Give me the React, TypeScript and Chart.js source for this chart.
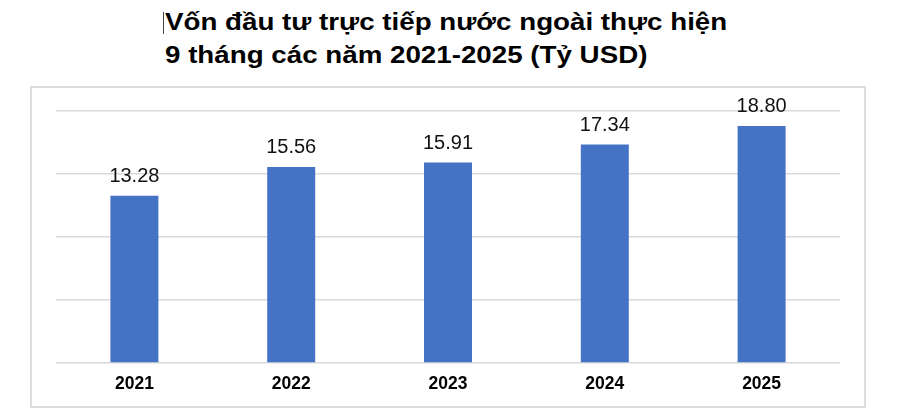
import { useEffect, useRef } from 'react';
import { Chart, registerables, Plugin } from 'chart.js';

Chart.register(...registerables);

const years = ['2021', '2022', '2023', '2024', '2025'];
const fdiValues = [13.28, 15.56, 15.91, 17.34, 18.8];
const titleLines = [
  'Vốn đầu tư trực tiếp nước ngoài thực hiện',
  '9 tháng các năm 2021-2025 (Tỷ USD)',
];

const FONT = '"Liberation Sans", Arial, sans-serif';

const valueLabels: Plugin<'bar'> = {
  id: 'valueLabels',
  afterDatasetsDraw(chart) {
    const { ctx } = chart;
    const meta = chart.getDatasetMeta(0);
    ctx.save();
    ctx.font = `20px ${FONT}`;
    ctx.fillStyle = '#111';
    ctx.textAlign = 'center';
    ctx.textBaseline = 'alphabetic';
    meta.data.forEach((bar, i) => {
      const v = fdiValues[i];
      ctx.fillText(v.toFixed(2), bar.x, bar.y - 14);
    });
    ctx.restore();
  },
};

const App: React.FC = () => {
  const canvasRef = useRef<HTMLCanvasElement | null>(null);

  useEffect(() => {
    if (!canvasRef.current) return;
    const ctx = canvasRef.current.getContext('2d');
    if (!ctx) return;

    const chart = new Chart(ctx, {
      type: 'bar',
      data: {
        labels: years,
        datasets: [
          {
            data: fdiValues,
            backgroundColor: '#4472C4',
            categoryPercentage: 1,
            barPercentage: 0.306,
          },
        ],
      },
      options: {
        responsive: false,
        maintainAspectRatio: false,
        animation: false,
        layout: { padding: { left: 24, right: 24, top: 23, bottom: 0 } },
        plugins: {
          legend: { display: false },
          tooltip: { enabled: false },
        },
        scales: {
          x: {
            grid: { display: false, drawTicks: false },
            border: { display: false },
            ticks: {
              padding: 11,
              color: '#000',
              font: { family: FONT, size: 17.5, weight: 'bold' },
            },
          },
          y: {
            min: 0,
            max: 20,
            ticks: { display: false, stepSize: 5 },
            grid: { color: '#d9d9d9', lineWidth: 1.5, drawTicks: false },
            border: { display: false },
          },
        },
      },
      plugins: [valueLabels],
    });

    return () => {
      chart.destroy();
    };
  }, []);

  return (
    <div
      style={{
        position: 'absolute',
        left: 0,
        top: 0,
        width: 900,
        height: 418,
        background: '#fff',
        overflow: 'hidden',
      }}
    >
      <div
        style={{
          position: 'absolute',
          left: 163,
          top: 12,
          width: 1,
          height: 22,
          background: '#444',
        }}
      />
      <div
        style={{
          position: 'absolute',
          left: 165,
          top: 6,
          font: `bold 23.5px/33px ${FONT}`,
          color: '#000',
          whiteSpace: 'nowrap',
          transform: 'scaleX(1.18)',
          transformOrigin: 'left top',
        }}
      >
        {titleLines.map((line) => (
          <div key={line}>{line}</div>
        ))}
      </div>
      <div
        style={{
          position: 'absolute',
          left: 30,
          top: 86,
          width: 836,
          height: 322,
          boxSizing: 'border-box',
          border: '2px solid #dcdcdc',
        }}
      />
      <canvas
        ref={canvasRef}
        width={832}
        height={318}
        style={{ position: 'absolute', left: 32, top: 88, width: 832, height: 318 }}
      />
    </div>
  );
};

export default App;
